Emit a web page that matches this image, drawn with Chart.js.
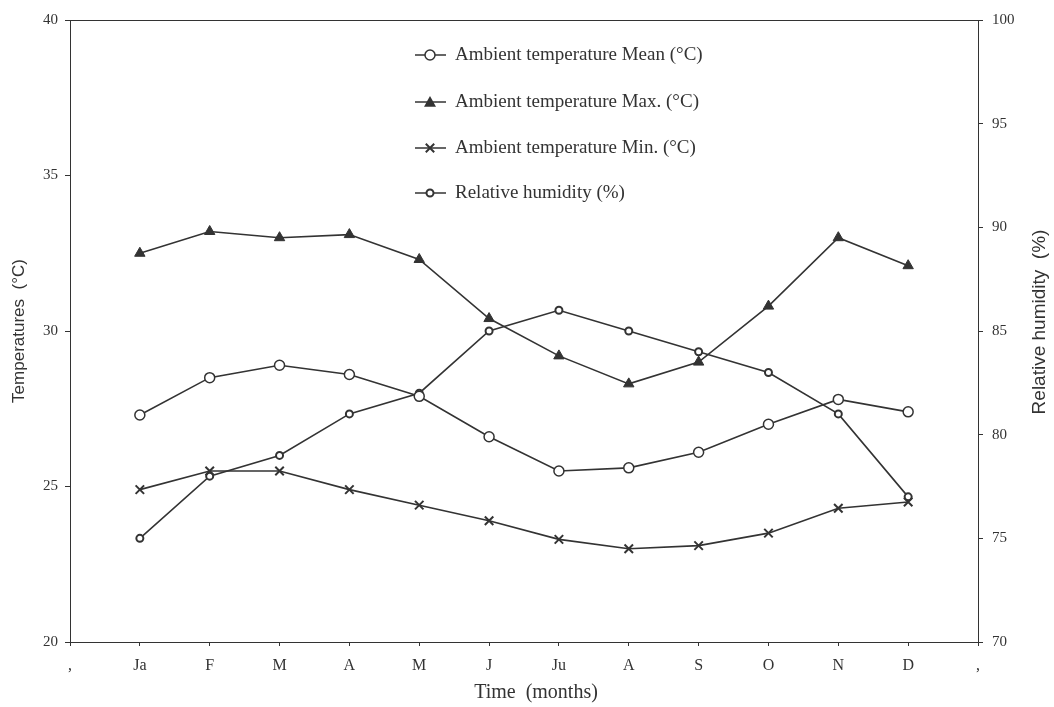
<!DOCTYPE html>
<html>
<head>
<meta charset="utf-8">
<script src="https://cdn.jsdelivr.net/npm/chart.js@4/dist/chart.umd.min.js"></script>
<style>
  html, body { margin: 0; padding: 0; background: #fff; }
  #wrap { width: 1054px; height: 707px; position: relative; }
</style>
</head>
<body>
<div id="wrap"><canvas id="climateChart"></canvas></div>
<script>
// Mois (les virgules aux extrémités sont des positions vides de l'axe)
const months = [',', 'Ja', 'F', 'M', 'A', 'M', 'J', 'Ju', 'A', 'S', 'O', 'N', 'D', ','];

// Valeurs, Janvier -> Décembre
const tempMean = [27.3, 28.5, 28.9, 28.6, 27.9, 26.6, 25.5, 25.6, 26.1, 27.0, 27.8, 27.4];
const tempMax  = [32.5, 33.2, 33.0, 33.1, 32.3, 30.4, 29.2, 28.3, 29.0, 30.8, 33.0, 32.1];
const tempMin  = [24.9, 25.5, 25.5, 24.9, 24.4, 23.9, 23.3, 23.0, 23.1, 23.5, 24.3, 24.5];
const humidity = [75, 78, 79, 81, 82, 85, 86, 85, 84, 83, 81, 77];

const tempTicks = [20, 25, 30, 35, 40];
const humTicks = [70, 75, 80, 85, 90, 95, 100];

const ink = '#333';
const serif = '"Liberation Serif", "DejaVu Serif", serif';
const sans = '"Liberation Sans", Arial, sans-serif';

// ajoute les positions vides au début et à la fin
function pad(arr) {
    return [null].concat(arr, [null]);
}

// cadre autour de la zone du graphique + titres d'axes + légende
const framePlugin = {
    id: 'frame',
    afterDraw(chart) {
        const { ctx, chartArea } = chart;
        ctx.save();
        ctx.strokeStyle = ink;
        ctx.lineWidth = 1;
        ctx.strokeRect(chartArea.left + 0.5, chartArea.top + 0.5,
            chartArea.right - chartArea.left, chartArea.bottom - chartArea.top);

        // titres des axes
        ctx.fillStyle = ink;
        ctx.textAlign = 'center';
        ctx.textBaseline = 'middle';
        ctx.font = '20px ' + serif;
        ctx.fillText('Time  (months)', 536, 693);

        ctx.save();
        ctx.font = '17px ' + sans;
        ctx.translate(19, 331);
        ctx.rotate(-Math.PI / 2);
        ctx.fillText('Temperatures  (°C)', 0, 0);
        ctx.restore();

        ctx.save();
        ctx.font = '19px ' + sans;
        ctx.translate(1040, 322);
        ctx.rotate(-Math.PI / 2);
        ctx.fillText('Relative humidity  (%)', 0, 0);
        ctx.restore();

        // légende
        ctx.font = '19px ' + serif;
        ctx.textAlign = 'left';
        const x0 = 415, rowY = [55, 102, 148, 193];
        chart.data.datasets.forEach((ds, i) => {
            const y = rowY[i];
            ctx.strokeStyle = ink;
            ctx.lineWidth = 1.5;
            ctx.beginPath();
            ctx.moveTo(x0, y);
            ctx.lineTo(x0 + 31, y);
            ctx.stroke();
            drawMarker(ctx, ds, x0 + 15, y);
            ctx.fillStyle = ink;
            ctx.fillText(ds.label, x0 + 40, y);
        });
        ctx.restore();
    }
};

function drawMarker(ctx, ds, x, y) {
    const r = ds.pointRadius;
    ctx.save();
    ctx.lineWidth = ds.pointBorderWidth;
    ctx.strokeStyle = ink;
    ctx.fillStyle = ds.pointBackgroundColor;
    ctx.beginPath();
    if (ds.pointStyle === 'circle') {
        ctx.arc(x, y, r, 0, Math.PI * 2);
        ctx.fill();
        ctx.stroke();
    } else if (ds.pointStyle === 'triangle') {
        ctx.moveTo(x, y - r);
        ctx.lineTo(x + r, y + r * 0.8);
        ctx.lineTo(x - r, y + r * 0.8);
        ctx.closePath();
        ctx.fill();
    } else if (ds.pointStyle === 'crossRot') {
        ctx.moveTo(x - r * 0.7, y - r * 0.7);
        ctx.lineTo(x + r * 0.7, y + r * 0.7);
        ctx.moveTo(x + r * 0.7, y - r * 0.7);
        ctx.lineTo(x - r * 0.7, y + r * 0.7);
        ctx.stroke();
    }
    ctx.restore();
}

const ctx = document.getElementById('climateChart');

new Chart(ctx, {
    type: 'line',
    data: {
        labels: months,
        datasets: [
            {
                label: 'Ambient temperature Mean (°C)',
                data: pad(tempMean),
                yAxisID: 'y',
                borderColor: ink,
                borderWidth: 1.6,
                pointStyle: 'circle',
                pointRadius: 5,
                pointBorderWidth: 1.5,
                pointBackgroundColor: '#fff',
                pointBorderColor: ink
            },
            {
                label: 'Ambient temperature Max. (°C)',
                data: pad(tempMax),
                yAxisID: 'y',
                borderColor: ink,
                borderWidth: 1.6,
                pointStyle: 'triangle',
                pointRadius: 6,
                pointBorderWidth: 1,
                pointBackgroundColor: ink,
                pointBorderColor: ink
            },
            {
                label: 'Ambient temperature Min. (°C)',
                data: pad(tempMin),
                yAxisID: 'y',
                borderColor: ink,
                borderWidth: 1.6,
                pointStyle: 'crossRot',
                pointRadius: 6,
                pointBorderWidth: 2,
                pointBackgroundColor: ink,
                pointBorderColor: ink
            },
            {
                label: 'Relative humidity (%)',
                data: pad(humidity),
                yAxisID: 'y1',
                borderColor: ink,
                borderWidth: 1.6,
                pointStyle: 'circle',
                pointRadius: 3.5,
                pointBorderWidth: 2,
                pointBackgroundColor: '#fff',
                pointBorderColor: ink
            }
        ]
    },
    options: {
        responsive: true,
        maintainAspectRatio: false,
        animation: false,
        layout: { padding: { top: 20, left: 0, right: 0, bottom: 0 } },
        plugins: {
            legend: { display: false },
            tooltip: { enabled: false }
        },
        scales: {
            x: {
                offset: false,
                afterFit: (scale) => { scale.height = 65; },
                border: { color: ink, width: 1 },
                grid: {
                    drawOnChartArea: false,
                    drawTicks: true,
                    tickLength: 4,
                    color: ink
                },
                ticks: {
                    color: ink,
                    font: { family: serif, size: 16 },
                    padding: 10,
                    maxRotation: 0,
                    autoSkip: false
                }
            },
            y: {
                position: 'left',
                min: 20,
                max: 40,
                afterFit: (scale) => { scale.width = 70; },
                afterBuildTicks: (scale) => { scale.ticks = tempTicks.map(v => ({ value: v })); },
                border: { color: ink, width: 1 },
                grid: {
                    drawOnChartArea: false,
                    tickLength: 5,
                    color: ink
                },
                ticks: {
                    color: ink,
                    font: { family: serif, size: 15 },
                    padding: 7
                }
            },
            y1: {
                position: 'right',
                min: 70,
                max: 100,
                afterFit: (scale) => { scale.width = 76; },
                afterBuildTicks: (scale) => { scale.ticks = humTicks.map(v => ({ value: v })); },
                border: { color: ink, width: 1 },
                grid: {
                    drawOnChartArea: false,
                    tickLength: 5,
                    color: ink
                },
                ticks: {
                    color: ink,
                    font: { family: serif, size: 15 },
                    padding: 9
                }
            }
        }
    },
    plugins: [framePlugin]
});
</script>
</body>
</html>
